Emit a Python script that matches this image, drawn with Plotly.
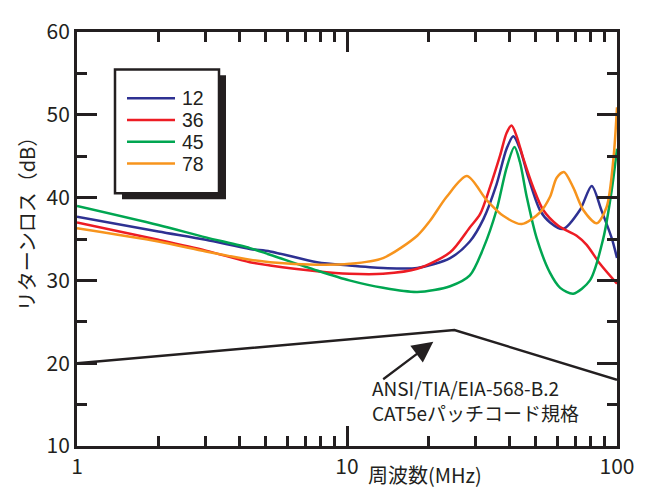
import plotly.graph_objects as go

# ---- data ----
freq_12 = [1, 2, 3, 4.37, 5.19, 7.74, 10.2, 13.6, 18.2, 24.1, 28.5, 32, 35.8, 39.0, 41.3, 43.7, 47, 51.8, 56.5, 63.1, 72.9, 80.6, 87.5, 95.6, 100]
rl_12 = [37.7, 35.9, 34.9, 33.8, 33.5, 32.2, 31.8, 31.5, 31.5, 32.7, 34.7, 37.4, 41.6, 45.9, 47.4, 45.9, 42.4, 38.5, 37.0, 36.2, 38.5, 41.4, 38.5, 35.1, 32.7]

freq_36 = [1, 2, 3, 4.37, 5.19, 7.74, 10.2, 13.6, 18.2, 24.1, 28.5, 31.1, 33.8, 36.9, 39.0, 40.7, 42.5, 45.0, 49.0, 53.3, 60.6, 70.9, 77.2, 86.5, 100]
rl_36 = [37.0, 34.9, 33.6, 32.2, 31.8, 31.1, 30.8, 30.8, 31.4, 33.4, 36.4, 38.0, 41.2, 45.1, 47.8, 48.7, 47.4, 44.7, 41.2, 38.5, 36.6, 35.4, 34.3, 32.0, 29.6]

freq_45 = [1, 2, 3, 4.37, 5.19, 7.74, 10.2, 13.6, 18.2, 24.1, 28.5, 32, 35.8, 39.0, 41.7, 43.7, 46.3, 50.4, 56.5, 61.6, 68.9, 79.4, 89, 95.6, 100]
rl_45 = [39.0, 36.7, 35.2, 33.9, 33.1, 31.2, 30.0, 29.1, 28.6, 29.3, 30.6, 33.9, 38.5, 43.6, 46.1, 44.3, 40.1, 35.1, 30.9, 29.1, 28.4, 30.0, 35.1, 40.9, 45.9]

freq_78 = [1, 2, 3, 4.37, 5.19, 7.74, 10.2, 13.6, 18.2, 20.3, 23.4, 27.8, 32.9, 37.9, 44.4, 51.8, 56.5, 59.8, 63.6, 68.9, 75.0, 84.1, 91.6, 97, 100]
rl_78 = [36.3, 34.7, 33.5, 32.5, 32.2, 31.9, 32.0, 32.7, 35.4, 37.2, 40.1, 42.6, 39.7, 37.8, 36.8, 38.2, 40.1, 42.4, 43.1, 41.2, 38.5, 36.9, 38.9, 44.7, 50.9]

series_names = ["12", "36", "45", "78"]
series_colors = ["#2e3192", "#ed1c24", "#00a651", "#f7941d"]

std_freq = [1, 25, 100]
std_rl = [20, 24, 18]

x_tickvals = [1, 10, 100]
x_ticktext = ["1", "10", "100"]
x_minorvals = [2, 3, 4, 5, 6, 7, 8, 9, 20, 30, 40, 50, 60, 70, 80, 90]
y_tickvals = [10, 20, 30, 40, 50, 60]

x_title = "周波数(MHz)"
y_title = "リターンロス（dB）"
std_label = "ANSI/TIA/EIA-568-B.2<br>CAT5eパッチコード規格"

# ---- layout helpers (page pixels; the page body has an 8px margin) ----
OFF = 8
W, H = 650 - OFF, 489 - OFF
L, R, T, B = 77, 617, 15, 446          # plot area in page pixels
INK = "#231f20"
FONT = "Noto Sans CJK JP"
LEG_FONT = "Liberation Sans"


def px(x):
    return (x - L) / (R - L)


def py(y):
    return (B - y) / (B - T)


fig = go.Figure()
for f, v, c, n in zip([freq_12, freq_36, freq_45, freq_78],
                      [rl_12, rl_36, rl_45, rl_78], series_colors, series_names):
    fig.add_trace(go.Scatter(x=f, y=v, mode="lines", name=n,
                             line=dict(color=c, width=2.5, shape="spline", smoothing=0.8)))
fig.add_trace(go.Scatter(x=std_freq, y=std_rl, mode="lines", name="CAT5e",
                         line=dict(color=INK, width=2.5)))

axis_common = dict(showline=True, linewidth=2.8, linecolor=INK, mirror="ticks",
                   ticks="inside", ticklen=20, tickwidth=2.5, tickcolor=INK,
                   showgrid=False, zeroline=False, ticklabelstandoff=0,
                   ticklabeloverflow="allow",
                   tickfont=dict(family=FONT, size=21, color=INK))

fig.update_xaxes(type="log", range=[0, 2], tickmode="array", tickvals=x_tickvals,
                 ticktext=x_ticktext,
                 minor=dict(ticks="inside", ticklen=10, tickwidth=2.5, tickcolor=INK,
                            tickmode="array", tickvals=x_minorvals, showgrid=False),
                 **axis_common)
fig.update_yaxes(range=[10, 60], tickmode="array", tickvals=y_tickvals,
                 minor=dict(ticks="inside", ticklen=10, tickwidth=2.5, tickcolor=INK,
                            dtick=5, showgrid=False),
                 **axis_common)

shapes = []
# legend shadow + box
shapes.append(dict(type="rect", xref="paper", yref="paper",
                   x0=px(122), x1=px(226), y0=py(60), y1=py(189),
                   fillcolor=INK, line=dict(width=0), layer="above"))
shapes.append(dict(type="rect", xref="paper", yref="paper",
                   x0=px(115), x1=px(219), y0=py(54), y1=py(183),
                   fillcolor="white", line=dict(color=INK, width=2.5), layer="above"))
annotations = []
rows = [84, 106.7, 129.3, 152]
for n, c, ry in zip(series_names, series_colors, rows):
    shapes.append(dict(type="line", xref="paper", yref="paper",
                       x0=px(127), x1=px(175), y0=py(ry), y1=py(ry),
                       line=dict(color=c, width=2.5), layer="above"))
    annotations.append(dict(xref="paper", yref="paper", x=px(180), y=py(ry),
                            xanchor="left", yanchor="middle", text=n, showarrow=False,
                            font=dict(family=LEG_FONT, size=19.5, color=INK)))

# standard label + arrow
annotations.append(dict(xref="paper", yref="paper", x=px(370), y=py(398),
                        xanchor="left", yanchor="middle", align="left", text=std_label,
                        showarrow=False, font=dict(family=FONT, size=19, color=INK)))
annotations.append(dict(x=1.3196, y=22.6, xref="x", yref="y", text="", showarrow=True,
                        ax=-51.6, ay=38.7, arrowhead=2, arrowsize=1.9, arrowwidth=2.2,
                        arrowcolor=INK))

# axis titles
annotations.append(dict(xref="paper", yref="paper", x=px(425), y=py(476),
                        xanchor="center", yanchor="middle", text=x_title, showarrow=False,
                        font=dict(family=FONT, size=20, color=INK)))
annotations.append(dict(xref="paper", yref="paper", x=px(26), y=py(210),
                        xanchor="center", yanchor="middle", text=y_title, textangle=-90,
                        showarrow=False, font=dict(family=FONT, size=20, color=INK)))

fig.update_layout(width=W, height=H,
                  margin=dict(l=L - OFF, r=W - (R - OFF), t=T - OFF, b=H - (B - OFF)),
                  plot_bgcolor="white", paper_bgcolor="white", showlegend=False,
                  shapes=shapes, annotations=annotations,
                  font=dict(family=FONT, color=INK))

fig.write_html("out.html")
